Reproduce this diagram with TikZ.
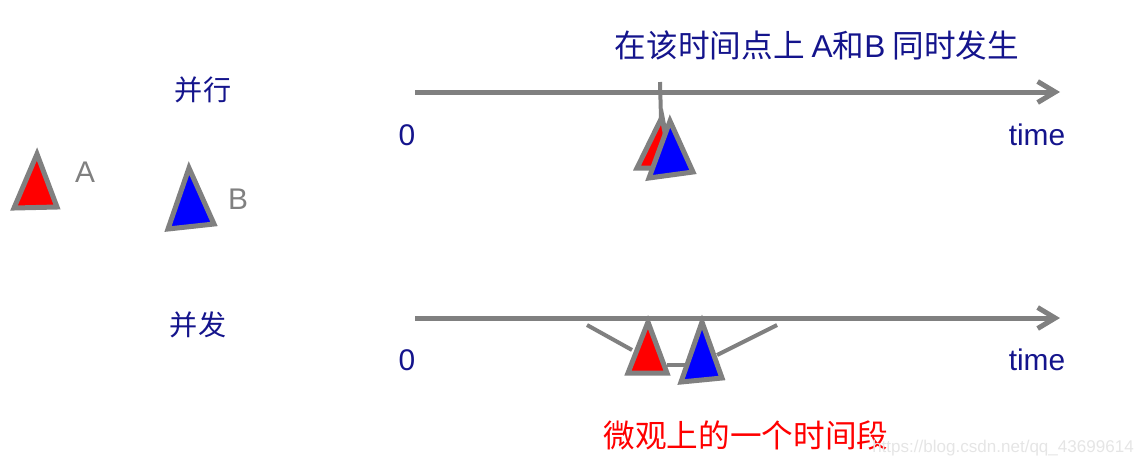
\documentclass[tikz,border=0pt]{standalone}
\usepackage{fontspec}
\setmainfont{Liberation Sans}
\newfontfamily\cjk{Noto Sans CJK SC}
\usetikzlibrary{arrows.meta}
\definecolor{navy}{RGB}{20,20,140}
\definecolor{axgray}{RGB}{128,128,128}
\begin{document}
\begin{tikzpicture}[x=0.02cm,y=-0.02cm,
  axis/.style={draw=axgray,line width=0.1cm,-{Straight Barb[length=0.35cm,width=0.42cm]}},
  tri/.style={draw=axgray,line width=0.1cm,line join=miter},
  link/.style={draw=axgray,line width=0.08cm},
  cn/.style={font=\cjk\fontsize{16}{18}\selectfont,text=navy,inner sep=0},
  cnbig/.style={font=\cjk\fontsize{18}{20}\selectfont,text=navy,inner sep=0},
  lat/.style={font=\fontsize{17}{20}\selectfont,text=navy,inner sep=0},
  gl/.style={font=\fontsize{17}{20}\selectfont,text=axgray,inner sep=0}]
\useasboundingbox (0,0) rectangle (1142,468);
% axes
\coordinate (t0) at (415,92);
\coordinate (t1) at (1060,92);
\coordinate (b0) at (415,318);
\coordinate (b1) at (1060,318);
\draw[axis] (t0) -- (t1);
\draw[axis] (b0) -- (b1);
% labels
\node[cn] (par) at (203,90) {并行};
\node[cn] (con) at (198,325) {并发};
\node[gl] (la) at (85,172) {A};
\node[gl] (lb) at (238,199) {B};
\node[lat] (z1) at (407,135) {0};
\node[lat] (z2) at (407,360) {0};
\node[lat] (tm1) at (1037,135) {time};
\node[lat] (tm2) at (1037,360) {time};
\node[cnbig] (top) at (817,45) {在该时间点上 {\fontspec{Liberation Sans}A}和{\fontspec{Liberation Sans}B} 同时发生};
\node[cnbig,text=red] (bot) at (746,435) {微观上的一个时间段};
\node[font=\fontsize{9.7}{11}\selectfont,text=black!10,inner sep=0] (wm) at (1003,448) {https://blog.csdn.net/qq\_43699614};
% legend triangles
\filldraw[tri,fill=red] (37,154) -- (14,208) -- (57,207) -- cycle;
\filldraw[tri,fill=blue] (189,168) -- (168,229) -- (214,224) -- cycle;
% parallel
\coordinate (stA) at (660,82);
\coordinate (stB) at (661,118);
\draw[link] (stA) -- (stB);
\filldraw[tri,fill=red] (662,117) -- (637,168) -- (672,168) -- cycle;
\filldraw[tri,fill=blue] (670,121) -- (649,178) -- (693,172) -- cycle;
% concurrent
\coordinate (l1) at (587,325);
\coordinate (l2) at (632,350);
\coordinate (m1) at (667,365);
\coordinate (m2) at (686,365);
\coordinate (r1) at (717,355);
\coordinate (r2) at (777,325);
\draw[link] (l1) -- (l2);
\draw[link] (m1) -- (m2);
\draw[link] (r1) -- (r2);
\filldraw[tri,fill=red] (648,322) -- (628,373) -- (667,373) -- cycle;
\filldraw[tri,fill=blue] (702,322) -- (681,382) -- (722,378) -- cycle;
\end{tikzpicture}
\end{document}
